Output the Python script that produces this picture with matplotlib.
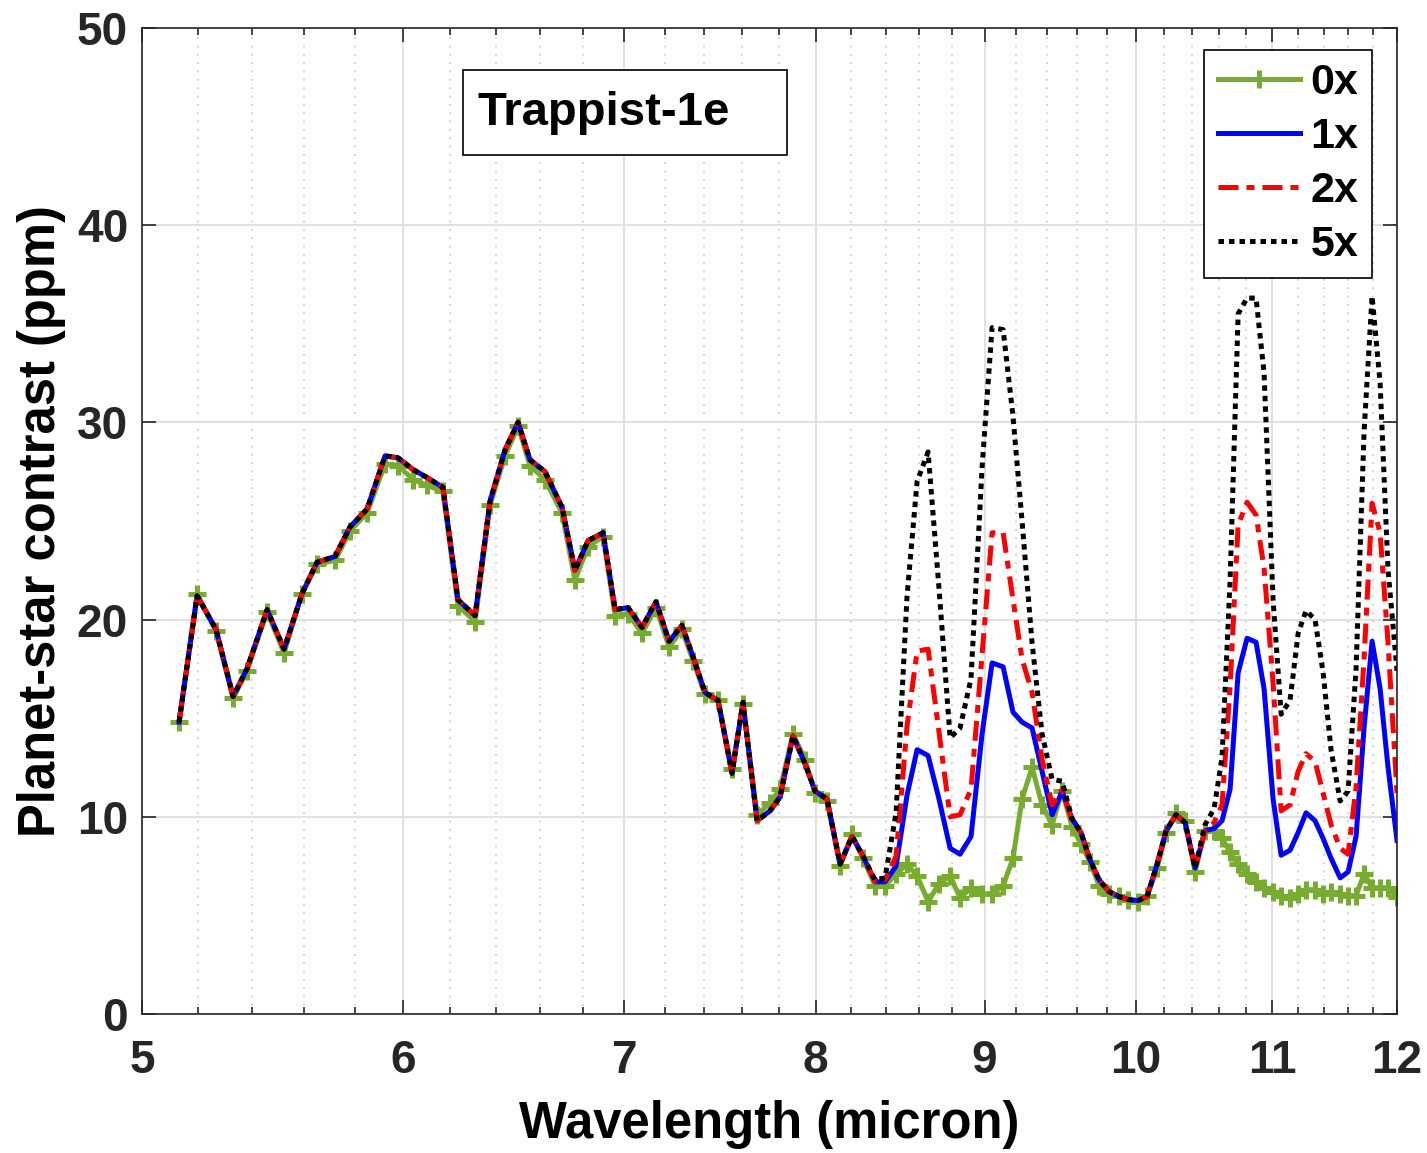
import numpy as np
import matplotlib
matplotlib.use('Agg')
import matplotlib.pyplot as plt
from matplotlib.ticker import FixedLocator, FixedFormatter, NullFormatter
from matplotlib.patches import Rectangle

plt.rcParams['font.family'] = ['Liberation Sans', 'DejaVu Sans']
plt.rcParams['font.weight'] = 'bold'

# wavelength (micron) where all four cases coincide
wl_a = [5.131, 5.196, 5.265, 5.328, 5.380, 5.456, 5.521, 5.590, 5.649, 5.721,
        5.781, 5.850, 5.924, 5.978, 6.041, 6.100, 6.168, 6.233, 6.308, 6.374,
        6.441, 6.500, 6.554, 6.623, 6.702, 6.763, 6.825, 6.897, 6.955, 7.018,
        7.087, 7.156, 7.222, 7.287, 7.344, 7.405, 7.473, 7.546, 7.604, 7.679,
        7.749, 7.803, 7.874, 7.940, 7.996, 8.063, 8.137, 8.205, 8.268]
line_a = [14.8, 21.2, 19.5, 16.1, 17.5, 20.5, 18.5, 21.3, 22.9, 23.2,
          24.7, 25.6, 28.3, 28.2, 27.6, 27.2, 26.7, 21.0, 20.2, 26.0,
          28.6, 30.0, 28.1, 27.5, 25.7, 22.5, 24.0, 24.4, 20.5, 20.6,
          19.6, 20.9, 18.9, 19.7, 18.1, 16.3, 15.9, 12.2, 15.8, 9.8,
          10.3, 11.0, 14.1, 12.7, 11.3, 10.9, 7.6, 9.0, 8.0]
green_a = [14.8, 21.3, 19.4, 16.0, 17.4, 20.4, 18.3, 21.3, 22.8, 23.0,
           24.5, 25.4, 27.9, 27.8, 27.1, 26.8, 26.5, 20.7, 19.9, 25.8,
           28.3, 29.8, 27.8, 27.1, 25.4, 22.0, 23.7, 24.2, 20.2, 20.3,
           19.3, 20.6, 18.6, 19.5, 17.9, 16.2, 15.9, 12.4, 15.7, 10.1,
           10.7, 11.4, 14.2, 12.9, 11.2, 10.8, 7.5, 9.1, 7.9]

# 8.3 - 9.75 micron band
wl_b = [8.338, 8.396, 8.461, 8.526, 8.586, 8.652, 8.718, 8.786, 8.847, 8.915,
        8.984, 9.047, 9.117, 9.180, 9.238, 9.303, 9.368, 9.434, 9.500, 9.566,
        9.626, 9.687, 9.748]
x0_b = [6.5, 6.5, 7.1, 7.6, 7.0, 5.7, 6.6, 7.0, 5.9, 6.4,
        6.1, 6.1, 6.5, 7.9, 10.9, 12.5, 10.6, 9.6, 11.3, 9.5,
        8.6, 7.7, 6.5]
x1_b = [6.7, 6.7, 7.5, 11.1, 13.4, 13.1, 10.9, 8.4, 8.1, 9.0,
        14.2, 17.8, 17.6, 15.3, 14.8, 14.5, 12.3, 10.1, 11.3, 9.9,
        9.2, 7.8, 6.8]
x2_b = [6.7, 6.8, 8.0, 14.6, 18.4, 18.5, 14.3, 10.0, 10.1, 11.4,
        18.2, 24.4, 24.4, 21.0, 18.0, 16.3, 12.9, 10.6, 11.4, 9.8,
        9.2, 7.8, 6.8]
x5_b = [6.8, 6.9, 10.2, 21.2, 27.0, 28.5, 21.6, 14.0, 14.5, 17.0,
        27.7, 34.8, 34.7, 30.3, 25.0, 18.8, 14.2, 11.9, 11.8, 9.9,
        9.2, 7.8, 6.8]

# 9.8 - 10.4 micron, coincident again
wl_c = [9.816, 9.885, 9.947, 10.017, 10.080, 10.151, 10.215, 10.286, 10.351, 10.423]
line_c = [6.2, 5.95, 5.8, 5.75, 5.95, 7.6, 9.3, 10.1, 9.7, 7.4]
green_c = [6.1, 6.0, 5.8, 5.7, 6.0, 7.4, 9.2, 10.2, 9.8, 7.2]

# 10.5 - 12 micron band
wl_d = [10.496, 10.562, 10.621, 10.681, 10.741, 10.808, 10.876, 10.937, 11.006, 11.068,
        11.137, 11.200, 11.262, 11.333, 11.397, 11.460, 11.533, 11.597, 11.662, 11.727,
        11.793, 11.859, 11.925, 12.000]
x0_d = [9.3, 9.3, 8.9, 8.2, 7.6, 7.1, 6.7, 6.4, 6.2, 6.0,
        5.9, 6.1, 6.3, 6.3, 6.1, 6.2, 6.1, 6.0, 6.0, 7.1,
        6.4, 6.4, 6.4, 5.95]
x1_d = [9.3, 9.4, 9.8, 11.4, 17.3, 19.05, 18.85, 16.5, 10.9, 8.05,
        8.3, 9.2, 10.2, 9.8, 8.9, 7.9, 6.9, 7.2, 9.0, 14.5,
        18.9, 16.5, 12.5, 8.8]
x2_d = [9.3, 9.7, 10.6, 16.6, 24.8, 25.95, 25.3, 22.6, 16.8, 10.3,
        10.6, 12.3, 13.2, 12.8, 11.2, 9.6, 8.4, 8.1, 11.5, 18.0,
        25.9, 24.4, 18.8, 11.2]
x5_d = [9.6, 10.4, 13.0, 22.0, 35.5, 36.3, 36.3, 32.5, 21.0, 15.2,
        15.9, 19.3, 20.45, 20.0, 17.3, 13.4, 10.8, 11.3, 17.5, 29.5,
        36.4, 32.0, 22.5, 17.4]

wl = np.array(wl_a + wl_b + wl_c + wl_d)
y0 = np.array(green_a + x0_b + green_c + x0_d)
y1 = np.array(line_a + x1_b + line_c + x1_d)
y2 = np.array(line_a + x2_b + line_c + x2_d)
y5 = np.array(line_a + x5_b + line_c + x5_d)

fig = plt.figure(figsize=(14.27, 11.53), dpi=100)
ax = fig.add_axes([0.0995, 0.1206, 0.8795, 0.8552])

lw = 3.6
ax.plot(wl, y0, color='#77AC30', lw=lw, marker='+', ms=13, mew=3.6, label='0x')
ax.plot(wl, y1, color='#0000FF', lw=lw, label='1x')
ax.plot(wl, y2, color='#FF0000', lw=lw, ls=(0, (4, 1.6, 1.6, 1.6)),
        dash_capstyle='butt', label='2x')
ax.plot(wl, y5, color='black', lw=lw, ls=(0, (1.1, 1.0)), dash_capstyle='butt', label='5x')

ax.set_xscale('log')
ax.set_xlim(5, 12)
ax.set_ylim(0, 50)
major = [5, 6, 7, 8, 9, 10, 11, 12]
minor = [round(v, 1) for v in np.arange(5.2, 12.0, 0.2) if abs(v - round(v)) > 0.05]
ax.xaxis.set_major_locator(FixedLocator(major))
ax.xaxis.set_major_formatter(FixedFormatter([str(m) for m in major]))
ax.xaxis.set_minor_locator(FixedLocator(minor))
ax.xaxis.set_minor_formatter(NullFormatter())
ax.set_yticks([0, 10, 20, 30, 40, 50])

ax.grid(which='major', color='#dcdcdc', lw=1.2)
ax.grid(which='minor', axis='x', color='#c8c8c8', lw=1.2, ls=(0, (1, 4)))
ax.set_axisbelow(True)

ax.tick_params(which='both', direction='in', top=True, right=True, colors='#262626',
               width=1.2)
ax.tick_params(which='major', length=10, labelsize=33, pad=10)
ax.tick_params(which='minor', length=5)
ax.tick_params(axis='x', which='major', pad=18)
for s in ax.spines.values():
    s.set_color('#262626')
    s.set_linewidth(1.2)

ax.set_xlabel('Wavelength (micron)', fontsize=36.5, fontweight='bold', labelpad=12)
ax.set_ylabel('Planet-star contrast (ppm)', fontsize=36.5, fontweight='bold', labelpad=8)

ax.add_patch(Rectangle((0.2558, 0.8712), 0.2582, 0.0862, transform=ax.transAxes,
                       fill=True, facecolor='white', edgecolor='black', lw=1.2, zorder=5))
ax.text(0.2677, 0.914, 'Trappist-1e', transform=ax.transAxes, fontsize=34,
        fontweight='bold', va='center', ha='left', zorder=6)

leg = ax.legend(loc='upper right', bbox_to_anchor=(0.980, 0.978), borderaxespad=0,
                fontsize=31, handlelength=1.9, handletextpad=0.25, labelspacing=0.32,
                borderpad=0.32, fancybox=False, edgecolor='black', framealpha=1,
                numpoints=1)
leg.get_frame().set_linewidth(1.2)

fig.savefig('out.png', dpi=100)
